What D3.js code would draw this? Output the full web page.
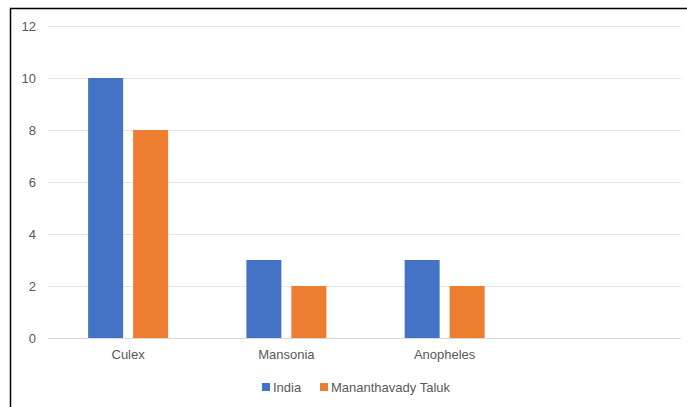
<!DOCTYPE html>
<html>
<head>
  <meta charset="utf-8">
  <title>Mosquito genera</title>
  <script src="https://d3js.org/d3.v7.min.js"></script>
  <style>
    body { margin: 0; background: #fff; font-family: "Liberation Sans", Arial, sans-serif; }
    .tick text { fill: #595959; font-size: 13px; }
  </style>
</head>
<body>
  <script>
    // Data
    var categories = ["Culex", "Mansonia", "Anopheles", ""];
    var india = [10, 3, 3];
    var taluk = [8, 2, 2];
    var yTicks = [0, 2, 4, 6, 8, 10, 12];
    var seriesNames = ["India", "Mananthavady Taluk"];
    var colors = ["#4472c4", "#ed7d31"];

    var W = 687, H = 407;
    var svg = d3.select("body").append("svg")
      .attr("width", W).attr("height", H);

    // chart frame (runs off the right and bottom of the window)
    svg.append("rect")
      .attr("x", 10.5).attr("y", 8.5)
      .attr("width", 700).attr("height", 420)
      .attr("fill", "#fff").attr("stroke", "#000").attr("stroke-width", 1.5);

    // plot area (note: "top" is reserved on window, so use other names)
    var plot = {left: 49, right: 682, top: 26, bottom: 338};

    var x = d3.scaleBand().domain(categories).range([plot.left, plot.right]);
    var y = d3.scaleLinear().domain([0, 12]).range([plot.bottom, plot.top]);

    // gridlines
    svg.append("g").selectAll("line")
      .data(yTicks)
      .enter().append("line")
      .attr("x1", plot.left - 1).attr("x2", plot.right - 1)
      .attr("y1", function(d) { return Math.round(y(d)) + 0.5; })
      .attr("y2", function(d) { return Math.round(y(d)) + 0.5; })
      .attr("stroke", function(d) { return d === 0 ? "#d9d9d9" : "#e6e6e6"; })
      .attr("stroke-width", 1);

    // y axis labels
    var yAxis = svg.append("g")
      .attr("transform", "translate(" + (plot.left - 8) + ",0)")
      .call(d3.axisLeft(y).tickValues(yTicks).tickSize(0).tickPadding(5));
    yAxis.select(".domain").remove();

    // x axis labels
    var xAxis = svg.append("g")
      .attr("transform", "translate(0," + plot.bottom + ")")
      .call(d3.axisBottom(x).tickSize(0).tickPadding(12));
    xAxis.select(".domain").remove();

    // bars
    var barW = 35, gap = 10;
    var series = [india, taluk];
    series.forEach(function(vals, s) {
      svg.append("g").selectAll("rect")
        .data(vals)
        .enter().append("rect")
        .attr("x", function(d, i) {
          var c = x(categories[i]) + x.bandwidth() / 2;
          return c - (barW + gap / 2) + s * (barW + gap);
        })
        .attr("y", function(d) { return y(d); })
        .attr("width", barW)
        .attr("height", function(d) { return y(0) - y(d); })
        .attr("fill", colors[s]);
    });

    // legend
    var legendX = [262, 320];
    var legend = svg.append("g").selectAll("g")
      .data(seriesNames)
      .enter().append("g")
      .attr("transform", function(d, i) { return "translate(" + legendX[i] + ",383)"; });
    legend.append("rect")
      .attr("width", 8).attr("height", 8)
      .attr("fill", function(d, i) { return colors[i]; });
    legend.append("text")
      .attr("x", 11).attr("y", 9)
      .attr("fill", "#595959")
      .style("font-size", "13px")
      .text(function(d) { return d; });
  </script>
</body>
</html>
